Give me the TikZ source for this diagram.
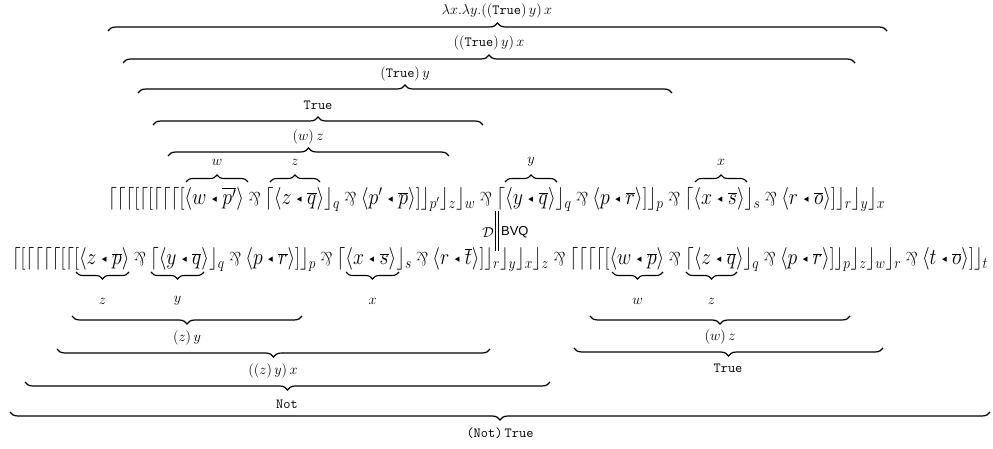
\documentclass[tikz,border=0pt]{standalone}
\usepackage[no-math]{fontspec}
\setmainfont{Liberation Serif}
\setsansfont{Liberation Sans}
\newfontfamily\djv{DejaVu Sans}
\usepackage{graphicx}
\usetikzlibrary{decorations.pathreplacing}
\newcommand{\tri}{\mathrel{\vcenter{\hbox{\scalebox{0.5}{\djv ◂}}}}}
\newcommand{\mypar}{\mathbin{\vcenter{\hbox{\scalebox{0.85}{\rotatebox[origin=c]{180}{$\&$}}}}}}
\tikzset{
  obrace/.style={decorate, decoration={brace, amplitude=8bp}, line width=1.2bp},
  ubrace/.style={decorate, decoration={brace, mirror, amplitude=8bp}, line width=1.2bp},
  sobrace/.style={decorate, decoration={brace, amplitude=7bp}, line width=1.1bp},
  subrace/.style={decorate, decoration={brace, mirror, amplitude=7bp}, line width=1.1bp},
  lab/.style={inner sep=0pt, font=\fontsize{14}{16}\selectfont},
  formula/.style={anchor=base west, inner sep=0pt, outer sep=0pt},
  dbl/.style={double, double distance=2.4bp, line width=0.8bp}
}
\begin{document}
\begin{tikzpicture}[x=1bp, y=-1bp]
\useasboundingbox[fill=white] (0,0) rectangle (993,449);

% formulas
\node[formula] (f1) at (108,205) {\scalebox{1}[1.15]{\resizebox{777bp}{!}{\fontsize{20}{24}\selectfont$\lceil\lceil\lceil[\lceil[\lceil\lceil\lceil[\langle w\tri\overline{p'}\rangle\mypar\lceil\langle z\tri\overline{q}\rangle\rfloor_q\mypar\langle p'\tri\overline{p}\rangle]\rfloor_{p'}\rfloor_z\rfloor_w\mypar\lceil\langle y\tri\overline{q}\rangle\rfloor_q\mypar\langle p\tri\overline{r}\rangle]\rfloor_p\mypar\lceil\langle x\tri\overline{s}\rangle\rfloor_s\mypar\langle r\tri\overline{o}\rangle]\rfloor_r\rfloor_y\rfloor_x$}}};

\node[formula] (f2) at (12,265) {\scalebox{1}[1.15]{\resizebox{976bp}{!}{\fontsize{20}{24}\selectfont$\lceil[\lceil\lceil\lceil\lceil[\lceil[\langle z\tri\overline{p}\rangle\mypar\lceil\langle y\tri\overline{q}\rangle\rfloor_q\mypar\langle p\tri\overline{r}\rangle]\rfloor_p\mypar\lceil\langle x\tri\overline{s}\rangle\rfloor_s\mypar\langle r\tri\overline{t}\rangle]\rfloor_r\rfloor_y\rfloor_x\rfloor_z\mypar\lceil\lceil\lceil\lceil[\langle w\tri\overline{p}\rangle\mypar\lceil\langle z\tri\overline{q}\rangle\rfloor_q\mypar\langle p\tri\overline{r}\rangle]\rfloor_p\rfloor_z\rfloor_w\rfloor_r\mypar\langle t\tri\overline{o}\rangle]\rfloor_t$}}};

% small braces over line 1
\coordinate (sw1) at (186,182); \coordinate (ew1) at (248,182);
\coordinate (sz1) at (270,182); \coordinate (ez1) at (320,182);
\coordinate (sy1) at (505,182); \coordinate (ey1) at (557,182);
\coordinate (sx1) at (695,182); \coordinate (ex1) at (747,182);
\draw[sobrace] (sw1) -- (ew1);
\draw[sobrace] (sz1) -- (ez1);
\draw[sobrace] (sy1) -- (ey1);
\draw[sobrace] (sx1) -- (ex1);
\node[lab] (lw1) at (217,162) {$w$};
\node[lab] (lz1) at (295,162) {$z$};
\node[lab] (ly1) at (531,162) {$y$};
\node[lab] (lx1) at (721,162) {$x$};

% small braces under line 2
\coordinate (sz2) at (76,272);  \coordinate (ez2) at (129,272);
\coordinate (sy2) at (151,272); \coordinate (ey2) at (204,272);
\coordinate (sx2) at (346,272); \coordinate (ex2) at (399,272);
\coordinate (sw2) at (612,272); \coordinate (ew2) at (663,272);
\coordinate (sz3) at (686,272); \coordinate (ez3) at (737,272);
\draw[subrace] (sz2) -- (ez2);
\draw[subrace] (sy2) -- (ey2);
\draw[subrace] (sx2) -- (ex2);
\draw[subrace] (sw2) -- (ew2);
\draw[subrace] (sz3) -- (ez3);
\node[lab] (lz2) at (102.5,301) {$z$};
\node[lab] (ly2) at (177.5,301) {$y$};
\node[lab] (lx2) at (372.5,301) {$x$};
\node[lab] (lw2) at (637.5,301) {$w$};
\node[lab] (lz3) at (711.5,301) {$z$};

% derivation
\coordinate (dtop) at (497,211);
\coordinate (dbot) at (497,251);
\draw[dbl] (dtop) -- (dbot);
\node[lab, anchor=east] (dname) at (494,233) {$\mathcal{D}$};
\node[lab, anchor=west, font=\sffamily\fontsize{13}{15}\selectfont] (bvq) at (501,232) {BVQ};

% top braces
\coordinate (a1) at (108,31);  \coordinate (b1) at (887,31);
\coordinate (a2) at (123,63);  \coordinate (b2) at (855,63);
\coordinate (a3) at (138,93);  \coordinate (b3) at (672,93);
\coordinate (a4) at (153,125); \coordinate (b4) at (483,125);
\coordinate (a5) at (168,156); \coordinate (b5) at (449,156);
\draw[obrace] (a1) -- (b1);
\draw[obrace] (a2) -- (b2);
\draw[obrace] (a3) -- (b3);
\draw[obrace] (a4) -- (b4);
\draw[obrace] (a5) -- (b5);
\node[lab] (t1) at (497,11) {$\lambda x.\lambda y.((\texttt{True})\,y)\,x$};
\node[lab] (t2) at (489,43) {$((\texttt{True})\,y)\,x$};
\node[lab] (t3) at (405,74) {$(\texttt{True})\,y$};
\node[lab] (t4) at (318,105) {\texttt{True}};
\node[lab] (t5) at (308,137) {$(w)\,z$};

% bottom braces
\coordinate (c1) at (72,316);  \coordinate (d1) at (302,316);
\coordinate (c2) at (57,349);  \coordinate (d2) at (490,349);
\coordinate (c3) at (25,382);  \coordinate (d3) at (550,382);
\coordinate (c4) at (10,412);  \coordinate (d4) at (990,412);
\coordinate (c5) at (590,316); \coordinate (d5) at (850,316);
\coordinate (c6) at (574,348); \coordinate (d6) at (883,348);
\draw[ubrace] (c1) -- (d1);
\draw[ubrace] (c2) -- (d2);
\draw[ubrace] (c3) -- (d3);
\draw[ubrace] (c4) -- (d4);
\draw[ubrace] (c5) -- (d5);
\draw[ubrace] (c6) -- (d6);
\node[lab] (u1) at (187,338) {$(z)\,y$};
\node[lab] (u2) at (273,371) {$((z)\,y)\,x$};
\node[lab] (u3) at (287,404) {\texttt{Not}};
\node[lab] (u4) at (500,433) {\texttt{(Not)\,True}};
\node[lab] (u5) at (720,337) {$(w)\,z$};
\node[lab] (u6) at (728,368) {\texttt{True}};
\end{tikzpicture}
\end{document}
